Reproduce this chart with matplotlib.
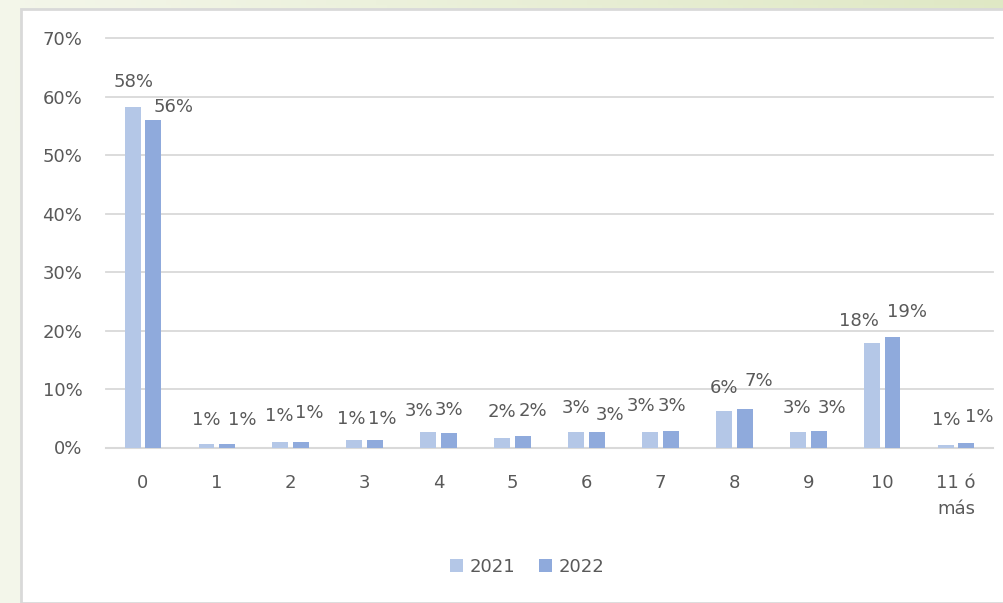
import numpy as np
import matplotlib
matplotlib.use("Agg")
import matplotlib.pyplot as plt
from matplotlib.patches import Rectangle

# Share of respondents per count, in percent
categories = ["0", "1", "2", "3", "4", "5", "6", "7", "8", "9", "10", "11 ó\nmás"]
vals_2021 = [58.2, 0.6, 1.0, 1.2, 2.7, 1.6, 2.6, 2.6, 6.3, 2.6, 17.8, 0.5]
vals_2022 = [56.1, 0.6, 1.0, 1.2, 2.5, 1.9, 2.6, 2.8, 6.6, 2.8, 18.9, 0.7]
series_names = ["2021", "2022"]
y_ticks = [0, 10, 20, 30, 40, 50, 60, 70]

# Label nudges (pixels) so neighbouring labels don't collide
nudge_2021 = [(1, 25), (0, 24), (-1, 26), (-3, 21), (-9, 21), (0, 26),
              (0, 24), (-9, 26), (0, 23), (-1, 24), (-13, 22), (1, 25)]
nudge_2022 = [(20, 13), (15, 24), (8, 29), (7, 21), (0, 23), (10, 25),
              (13, 17), (1, 25), (14, 28), (13, 23), (15, 25), (13, 26)]

c2021 = "#B4C7E7"
c2022 = "#8FAADC"
text_col = "#595959"
grid_col = "#D9D9D9"

plt.rcParams["font.family"] = ["DejaVu Sans"]

W, H = 1004, 603
fig = plt.figure(figsize=(W / 100, H / 100), dpi=100)

# pale green slide background with a soft gradient
bg = fig.add_axes([0, 0, 1, 1], zorder=-10)
gx = np.linspace(0, 1, 200)
gy = np.linspace(0, 1, 120)
X, Y = np.meshgrid(gx, gy)
t = np.clip(0.15 + 0.85 * X * (1 - Y) ** 3, 0, 1)
pale = np.array([0.970, 0.976, 0.945])
green = np.array([0.875, 0.910, 0.770])
img = pale[None, None, :] * (1 - t[..., None]) + green[None, None, :] * t[..., None]
bg.imshow(img, aspect="auto", extent=[0, 1, 0, 1], origin="upper")
bg.axis("off")

# white chart panel
fig.patches.append(Rectangle((21 / W, 0), 1 - 21 / W, 1 - 9 / H, transform=fig.transFigure,
                             facecolor="white", edgecolor=grid_col, linewidth=2, zorder=-5))

ax = fig.add_axes([106 / W, 1 - 447.5 / H, (993 - 106) / W, (447.5 - 38.3) / H])
ax.set_facecolor("none")

x = np.arange(len(categories))
bw = 0.215
off = 0.14
b1 = ax.bar(x - off, vals_2021, bw, color=c2021, label=series_names[0], zorder=3)
b2 = ax.bar(x + off, vals_2022, bw, color=c2022, label=series_names[1], zorder=3)

for xs, vals, nudges in [(x - off, vals_2021, nudge_2021), (x + off, vals_2022, nudge_2022)]:
    for xi, v, (dx, dy) in zip(xs, vals, nudges):
        ax.annotate(f"{int(v + 0.5)}%", xy=(xi, v), xytext=(dx, dy),
                    textcoords="offset pixels", ha="center", va="center",
                    fontsize=13, color=text_col, zorder=4)

ax.set_xlim(-0.5, len(categories) - 0.5)
ax.set_ylim(0, 70)
ax.set_yticks(y_ticks)
ax.set_yticklabels([f"{v}%" for v in y_ticks])
ax.set_xticks(x)
ax.set_xticklabels(categories)
for lbl in ax.get_xticklabels():
    lbl.set_linespacing(1.6)

ax.yaxis.grid(True, color=grid_col, linewidth=1.3, zorder=0)
for gl in ax.get_ygridlines():
    gl.set_clip_on(False)
ax.set_axisbelow(True)
for s in ["top", "right", "left"]:
    ax.spines[s].set_visible(False)
ax.spines["bottom"].set_color(grid_col)
ax.spines["bottom"].set_linewidth(1.5)
ax.tick_params(axis="both", length=0, labelsize=13, colors=text_col)
ax.tick_params(axis="y", pad=17)
ax.tick_params(axis="x", pad=19)

fig.legend(handles=[b1, b2], labels=series_names, loc="center",
           bbox_to_anchor=(527 / W, 1 - 567 / H), ncol=2, frameon=False,
           fontsize=13, labelcolor=text_col, handlelength=0.75, handleheight=0.75,
           handletextpad=0.35, columnspacing=1.3)

fig.savefig("out.png", dpi=100)
